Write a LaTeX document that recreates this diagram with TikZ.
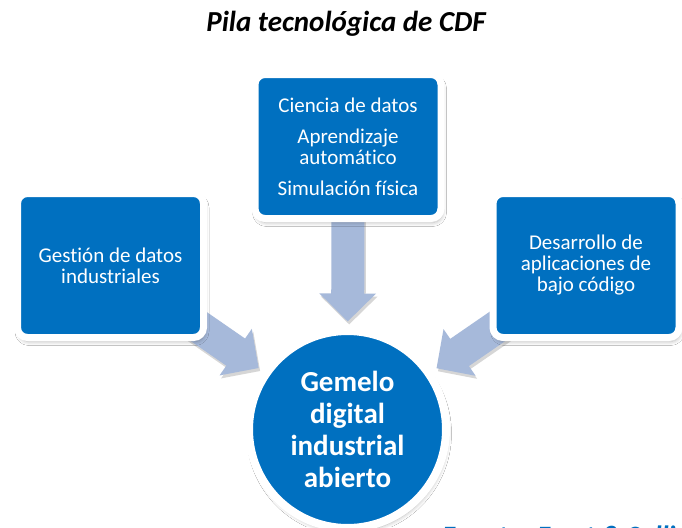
\documentclass[tikz,border=0pt]{standalone}
\usepackage{fontspec}
\setmainfont{Carlito}[Ligatures=NoCommon]
\usetikzlibrary{arrows.meta,shadows.blur,calc}
\definecolor{boxblue}{RGB}{0,112,192}
\definecolor{arrowblue}{RGB}{166,185,218}
\pgfdeclarelayer{background}
\pgfsetlayers{background,main}
\begin{document}
\begin{tikzpicture}[x=1pt,y=-1pt,
  softshadow/.style={blur shadow={shadow xshift=1.5pt, shadow yshift=-4pt, shadow opacity=28, shadow blur steps=8, shadow blur radius=4pt}},
  box/.style={rectangle, rounded corners=10pt, minimum width=186pt, minimum height=144pt,
    inner sep=0pt, fill=boxblue, draw=white, line width=7pt, text=white, align=center,
    font=\fontsize{21}{21}\selectfont, softshadow},
  hub/.style={circle, minimum size=197pt, inner sep=0pt, fill=boxblue, draw=white,
    line width=8pt, text=white, align=center, font=\bfseries\fontsize{29}{32}\selectfont, softshadow},
  bigarrow/.style={line width=33pt, -{Triangle[width=55pt,length=28pt]}},
]
\useasboundingbox (0,0) rectangle (682,527);

\node[anchor=base, inner sep=0pt, font=\bfseries\itshape\fontsize{29}{29}\selectfont] (title) at (346,32) {Pila tecnológica de CDF};

\node[box] (T) at (348,146.5) {Ciencia de datos\\[10pt]Aprendizaje\\automático\\[10pt]Simulación física};
\node[box] (L) at (110.5,265.5) {Gestión de datos\\industriales};
\node[box] (R) at (586,265.5) {Desarrollo de\\aplicaciones de\\bajo código};
\node[hub] (H) at (347.5,429.5) {Gemelo\\digital\\industrial\\abierto};

\node[anchor=base west, inner sep=0pt, text=boxblue, font=\bfseries\itshape\fontsize{28}{28}\selectfont] (src) at (442,545) {Fuente: Frost \& Sullivan};

\begin{pgfonlayer}{background}
  \fill[white] (0,0) rectangle (682,527);
  \foreach \b in {L,T,R}{
    \begin{scope}[transparency group, opacity=0.16, transform canvas={shift={(1.5pt,-3pt)}}]
      \draw[bigarrow, black] (\b.center) -- ($(H.center)!108pt!(\b.center)$);
    \end{scope}
    \draw[bigarrow, arrowblue] (\b.center) -- ($(H.center)!108pt!(\b.center)$);
  }
\end{pgfonlayer}
\end{tikzpicture}
\end{document}
